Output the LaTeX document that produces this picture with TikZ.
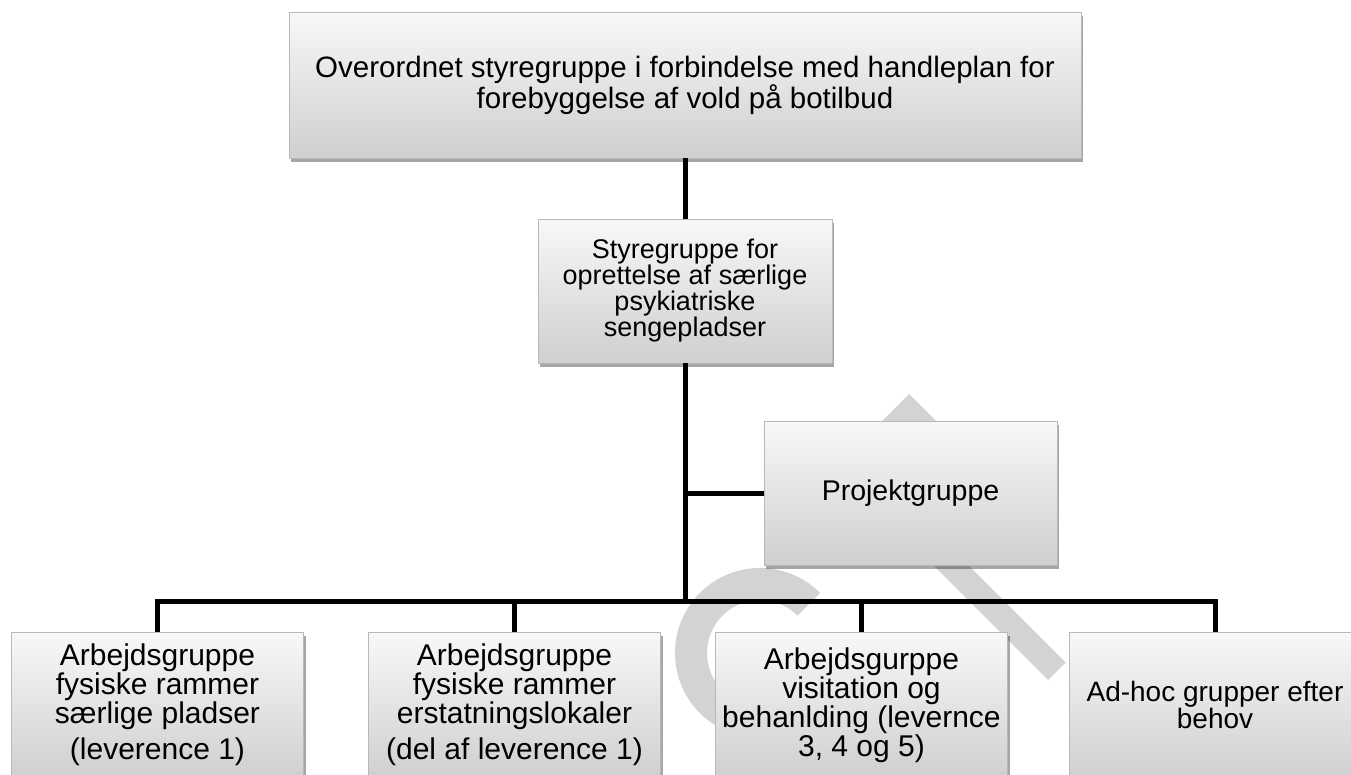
\documentclass[tikz,border=0pt]{standalone}
\usepackage{fontspec}
\setmainfont{Liberation Sans}
\usetikzlibrary{shadows}
\definecolor{wm}{HTML}{D3D3D3}
\definecolor{boxtop}{HTML}{F8F8F8}
\definecolor{boxbot}{HTML}{CFCFCF}
\definecolor{boxedge}{HTML}{B8B8B8}
\tikzset{
 orgbox/.style={rectangle, draw=boxedge, line width=0.8pt, top color=boxtop, bottom color=boxbot,
   minimum width=292pt, minimum height=146pt, inner sep=0pt, align=center,
   drop shadow={shadow xshift=2pt, shadow yshift=-3.5pt, opacity=0.35, fill=black}},
 link/.style={line width=5pt, draw=black, line join=miter},
 wmark/.style={fill=wm, draw=none}
}
\begin{document}
\begin{tikzpicture}[x=1pt,y=-1pt]
\useasboundingbox (0,0) rectangle (1351,774);
\clip (0,0) rectangle (1351,774);
\fill[white] (0,0) rectangle (1351,774);
% watermark
\fill[wmark] (760,653) ++(-45:85) arc[start angle=-45,end angle=-270,radius=85] -- ++(0,-32) arc[start angle=-270,end angle=-45,radius=53] -- cycle;
\fill[wmark] (908,540) -- (1048,680) -- (1065.5,662.5) -- (925.5,522.5) -- cycle;
\fill[wmark] (868,435) -- (909,394) -- (950,435) -- cycle;
% boxes
\node[orgbox, minimum width=792pt, minimum height=146pt, font=\fontsize{29.5}{28.5}\selectfont] (head) at (685,85)
  {Overordnet styregruppe i forbindelse med handleplan for\\forebyggelse af vold på botilbud};
\node[orgbox, minimum width=294pt, minimum height=144pt, font=\fontsize{27}{26}\selectfont] (mid) at (685,291)
  {Styregruppe for\\oprettelse af særlige\\psykiatriske\\sengepladser};
\node[orgbox, minimum width=293pt, minimum height=144pt, font=\fontsize{28.5}{28}\selectfont] (proj) at (910.5,493)
  {Projektgruppe};
\node[orgbox, font=\fontsize{30}{25.5}\selectfont] (b1) at (157.5,705)
  {Arbejdsgruppe\\fysiske rammer\\særlige pladser\\[7pt](leverence 1)};
\node[orgbox, font=\fontsize{30}{25.5}\selectfont] (b2) at (514.5,705)
  {Arbejdsgruppe\\fysiske rammer\\erstatningslokaler\\[7pt](del af leverence 1)};
\node[orgbox, font=\fontsize{30}{27}\selectfont] (b3) at (861.5,705)
  {Arbejdsgurppe\\visitation og\\behanlding (levernce\\3, 4 og 5)};
\node[orgbox, font=\fontsize{28}{25.5}\selectfont] (b4) at (1215,705)
  {Ad-hoc grupper efter\\behov};
% connectors
\coordinate (bus) at (685,601);
\draw[link] (head.south) -- (mid.north);
\draw[link] (mid.south) -- (bus);
\draw[link] (proj.west) -- (proj.west -| bus);
\draw[link] (b1.north) -- (b1.north |- bus) -- (b4.north |- bus) -- (b4.north);
\draw[link] (b2.north) -- (b2.north |- bus);
\draw[link] (b3.north) -- (b3.north |- bus);
\end{tikzpicture}
\end{document}
